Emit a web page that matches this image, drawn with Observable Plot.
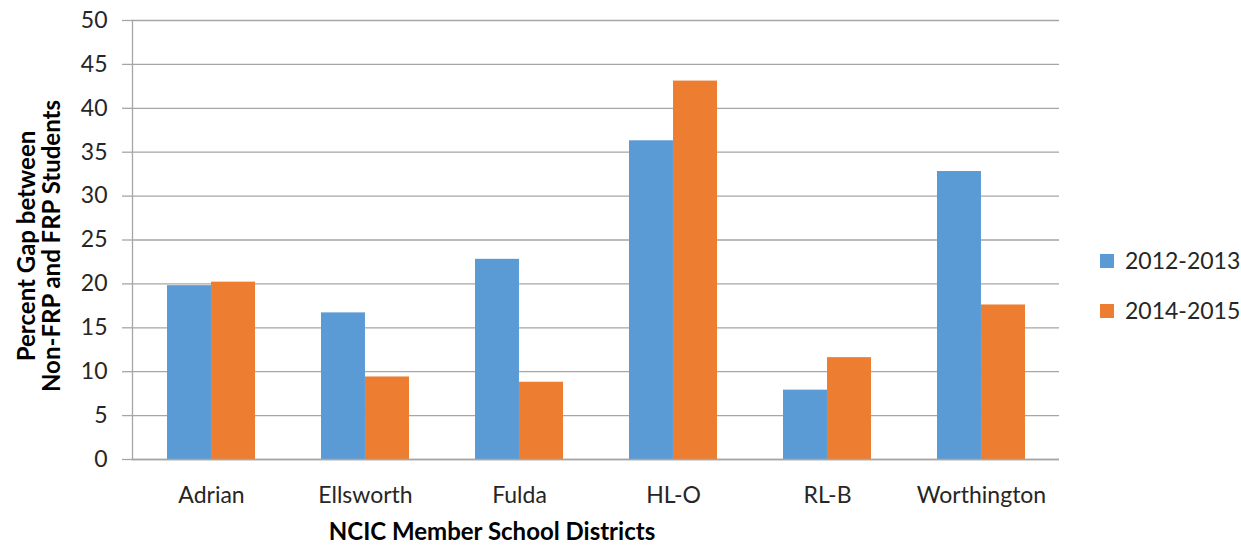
<!DOCTYPE html>
<html>
<head>
<meta charset="utf-8">
<script src="https://cdn.jsdelivr.net/npm/d3@7"></script>
<script src="https://cdn.jsdelivr.net/npm/@observablehq/plot@0.6"></script>
<style>
  html, body { margin: 0; padding: 0; background: #fff; }
  #chart svg { display: block; }
</style>
</head>
<body>
<div id="chart"></div>
<script>
const districts = ["Adrian", "Ellsworth", "Fulda", "HL-O", "RL-B", "Worthington"];
const series = ["2012-2013", "2014-2015"];
const values2012 = [19.8, 16.7, 22.8, 36.3, 7.9, 32.8];
const values2014 = [20.2, 9.4, 8.8, 43.1, 11.6, 17.6];
const yTicks = [0, 5, 10, 15, 20, 25, 30, 35, 40, 45, 50];
const colors = ["#5b9bd5", "#ed7d31"];
const yTitle = ["Percent Gap between", "Non-FRP and FRP Students"];
const xTitle = "NCIC Member School Districts";

const data2012 = districts.map((d, i) => ({district: d, series: series[0], value: values2012[i]}));
const data2014 = districts.map((d, i) => ({district: d, series: series[1], value: values2014[i]}));

const W = 1241, H = 545;
const font = "Lato, 'Open Sans', sans-serif";
const gridColor = "#a6a6a6";
const textColor = "#262626";

const plot = Plot.plot({
  width: W,
  height: H,
  marginTop: 20,
  marginBottom: 86,
  marginLeft: 132,
  marginRight: 182,
  style: {fontFamily: font, fontSize: "23px", color: textColor, background: "#fff"},
  x: {domain: districts, paddingInner: 0.43, paddingOuter: 0.215, label: null},
  y: {domain: [0, 50], label: null},
  marks: [
    Plot.ruleY(yTicks, {y: d => d, stroke: gridColor, strokeWidth: 1.3, strokeOpacity: 1}),
    Plot.axisY({ticks: yTicks, tickSize: 10, tickPadding: 15, stroke: gridColor, strokeOpacity: 1, strokeWidth: 1.3, fill: textColor, fontSize: 23, label: null}),
    Plot.barY(data2012, {x: "district", y: "value", fill: colors[0], insetRight: 44.03}),
    Plot.barY(data2014, {x: "district", y: "value", fill: colors[1], insetLeft: 44.03}),
    Plot.frame({anchor: "left", stroke: gridColor, strokeWidth: 1.3}),
    Plot.ruleY([0], {stroke: gridColor, strokeWidth: 1.3}),
    Plot.axisX({tickSize: 0, tickPadding: 27, fill: textColor, fontSize: 23, label: null})
  ]
});

document.getElementById("chart").appendChild(plot);

const svg = d3.select(plot);
// y-axis title (two lines, rotated)
const yt = svg.append("text")
  .attr("transform", "translate(0,246) rotate(-90)")
  .attr("text-anchor", "middle")
  .attr("font-family", font)
  .attr("font-weight", "bold")
  .attr("font-size", 24)
  .attr("fill", "#000");
yTitle.forEach((t, i) => {
  yt.append("tspan").attr("x", 0).attr("y", 35 + i * 25).text(t);
});
// x-axis title
svg.append("text")
  .attr("x", 492).attr("y", 540)
  .attr("text-anchor", "middle")
  .attr("font-family", font)
  .attr("font-weight", "bold")
  .attr("font-size", 24)
  .attr("fill", "#000")
  .text(xTitle);
// legend
const lg = svg.append("g").attr("font-family", font).attr("font-size", 23).attr("fill", textColor).attr("text-anchor", "start");
series.forEach((s, i) => {
  const cy = 261 + i * 50;
  lg.append("rect").attr("x", 1100).attr("y", cy - 7).attr("width", 14).attr("height", 14).attr("fill", colors[i]);
  lg.append("text").attr("x", 1125).attr("y", cy).attr("dy", "0.35em").text(s);
});
</script>
</body>
</html>
